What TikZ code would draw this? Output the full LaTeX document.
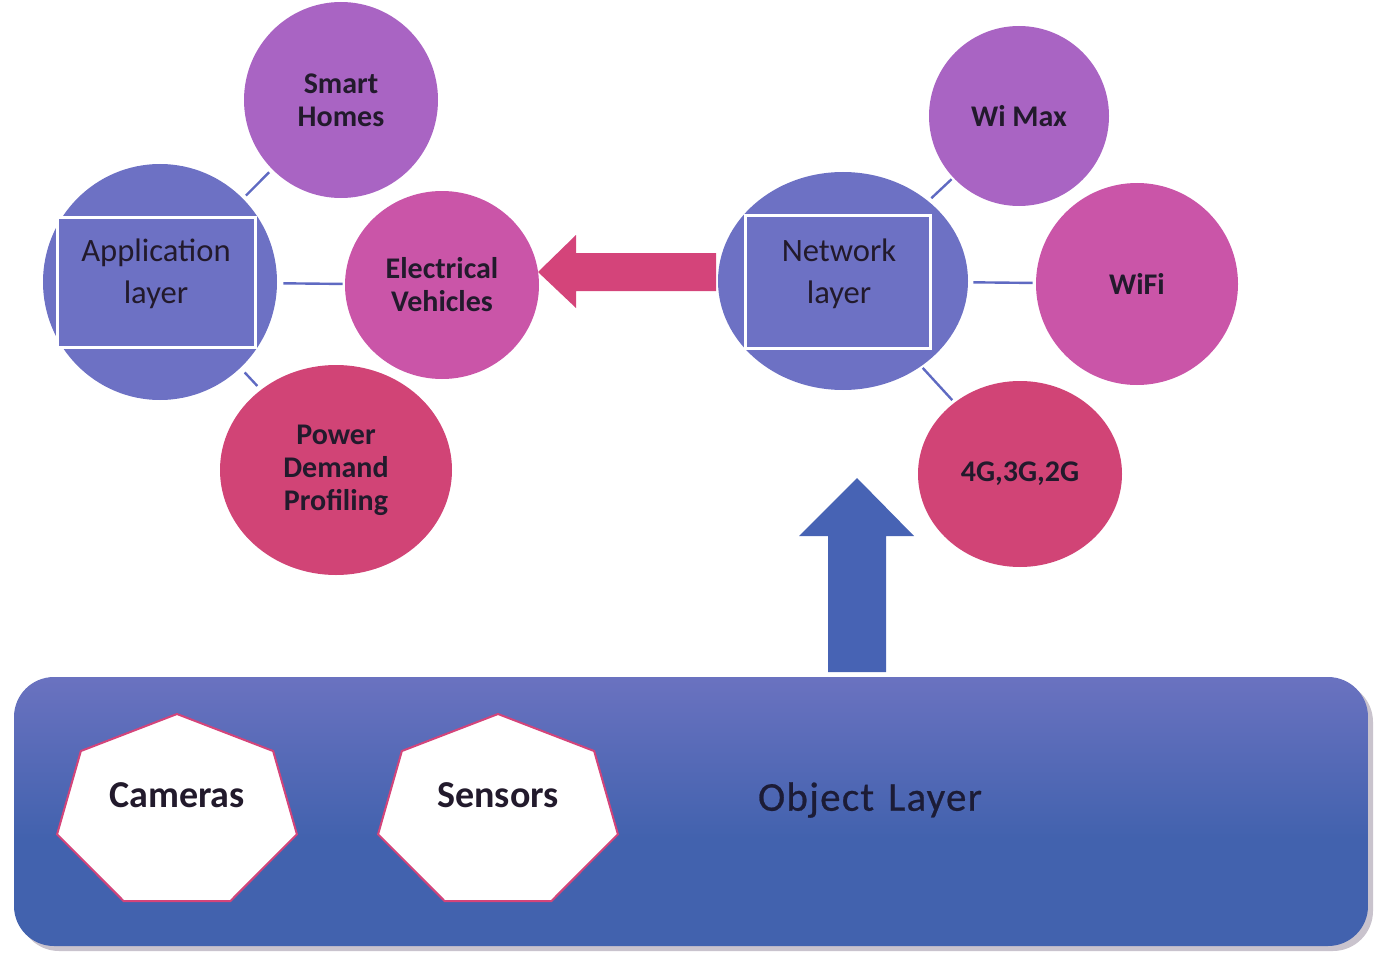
\documentclass[tikz,border=0pt]{standalone}
\usepackage{fontspec}
\setmainfont{Carlito}
\usetikzlibrary{shapes.geometric}
\definecolor{cpurple}{HTML}{A964C3}
\definecolor{cmag}{HTML}{CA55A8}
\definecolor{ccrim}{HTML}{D14476}
\definecolor{cblue}{HTML}{6D71C4}
\definecolor{ctext}{HTML}{221A2C}
\definecolor{cline}{HTML}{5F6AC2}
\definecolor{carrowp}{HTML}{D4447A}
\definecolor{carrowb}{HTML}{4763B4}
\definecolor{objtop}{HTML}{6A72C0}
\definecolor{objbot}{HTML}{4262AE}
\definecolor{cshadow}{HTML}{C9C3CD}
\definecolor{objtext}{HTML}{1C1C36}
\pgfdeclareverticalshading{objshade}{100bp}{color(0bp)=(objbot); color(45bp)=(objbot); color(75bp)=(objtop); color(100bp)=(objtop)}
\tikzset{
  bub/.style={ellipse, inner sep=0pt, draw=none, text=ctext, align=center,
    font=\fontsize{15}{16.5}\selectfont\bfseries},
  layrect/.style={rectangle, inner sep=0pt, fill=cblue, draw=white, line width=1.5pt},
  laytext/.style={text=ctext, align=center, font=\fontsize{16.3}{21}\selectfont},
  conn/.style={draw=cline, line width=1.2pt},
  hept/.style={fill=white, draw=carrowp, line width=1pt, line join=miter},
  hepttext/.style={text=ctext, font=\fontsize{19}{22}\selectfont\bfseries},
  objlabel/.style={text=objtext, font=\fontsize{20.5}{22}\selectfont\addfontfeature{LetterSpace=3,FakeBold=0.6}}
}
\begin{document}
\begin{tikzpicture}[x=0.5pt,y=-0.5pt]
\useasboundingbox (0,0) rectangle (1382,963);
% object layer
\fill[cshadow, rounded corners=20pt] (19,682) rectangle (1373,951);
\path[rounded corners=20pt, shading=objshade] (14,677) rectangle (1368,946);
\node[objlabel] (obj) at (870,800) {Object\hspace{7pt}Layer};
% heptagons
\foreach \cx/\nm/\txt in {177/cam/Cameras, 498/sen/Sensors}{
  \draw[hept] ({\cx+123*cos(90)},{812.4-98.4*sin(90)})
    \foreach \k in {1,...,6}{ -- ({\cx+123*cos(90+\k*360/7)},{812.4-98.4*sin(90+\k*360/7)}) } -- cycle;
  \node[hepttext] (\nm) at (\cx,795) {\txt};
}
% bubbles
\node[bub, fill=cblue, minimum width=117pt, minimum height=118pt] (app) at (160,282) {};
\node[bub, fill=cpurple, minimum width=97pt, minimum height=98pt] (smart) at (341,100) {Smart\\Homes};
\node[bub, fill=cmag, minimum width=97pt, minimum height=94pt] (ev) at (442,285) {Electrical\\Vehicles};
\node[bub, fill=ccrim, minimum width=116pt, minimum height=105pt] (pow) at (336,470) {Power\\Demand\\Profiling};
\node[bub, fill=cblue, minimum width=125pt, minimum height=109pt] (net) at (843,281) {};
\node[bub, fill=cpurple, minimum width=90pt, minimum height=90pt] (wimax) at (1019,116) {Wi Max};
\node[bub, fill=cmag, minimum width=101pt, minimum height=101pt] (wifi) at (1137,284) {WiFi};
\node[bub, fill=ccrim, minimum width=102pt, minimum height=93pt] (g4) at (1020,474) {4G,3G,2G};
% layer rectangles
\node[layrect, minimum width=99pt, minimum height=65pt] (apprect) at (156,282) {};
\node[laytext] (apptxt) at (156,274) {Application\\layer};
\node[layrect, minimum width=92.5pt, minimum height=66.5pt] (netrect) at (837.5,281.5) {};
\node[laytext] (nettxt) at (839,274) {Network\\layer};
% connectors
\draw[conn, shorten >=2pt, shorten <=2pt] (app) -- (smart);
\draw[conn, shorten >=1pt, shorten <=3pt] (app) -- (ev);
\draw[conn, shorten >=2.5pt, shorten <=3pt] (app) -- (pow);
\draw[conn, shorten >=1pt, shorten <=2pt] (net) -- (wimax);
\draw[conn, shorten >=1.5pt, shorten <=2.5pt] (net) -- (wifi);
\draw[conn, shorten >=1.5pt, shorten <=1pt] (net) -- (g4);
% arrows
\coordinate (ptip) at (538,272);
\fill[carrowp] (ptip) -- (576,235) -- (576,253) -- (716,253) -- (716,291) -- (576,291) -- (576,308) -- cycle;
\coordinate (btip) at (857,478);
\fill[carrowb] (btip) -- (914,536) -- (886,536) -- (886,672) -- (828,672) -- (828,536) -- (799,536) -- cycle;
\end{tikzpicture}
\end{document}
